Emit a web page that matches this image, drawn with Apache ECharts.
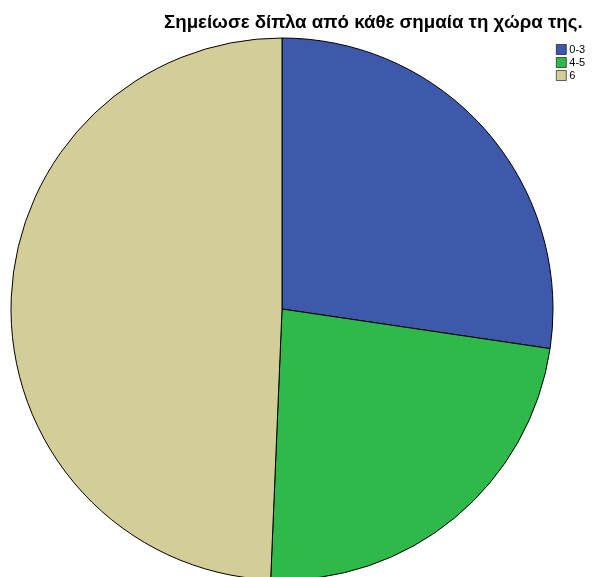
<!DOCTYPE html>
<html><head><meta charset="utf-8">
<script src="https://cdn.jsdelivr.net/npm/echarts@6/dist/echarts.min.js"></script>
<style>html,body{margin:0;padding:0;background:#fff}#c{width:593px;height:577px}</style>
</head><body><div id="c"></div>
<script>
const titleText = 'Σημείωσε δίπλα από κάθε σημαία τη χώρα της.';
const categories = ['0-3', '4-5', '6'];
const values = [41, 35, 74];
const colors = ['#3e58ac', '#2eb94a', '#d3ce97'];

const chart = echarts.init(document.getElementById('c'));
chart.setOption({
  animation: false,
  title: {
    text: titleText, left: 159, top: 8,
    textStyle: {fontFamily: 'Liberation Sans, Arial, sans-serif', fontSize: 18.7, fontWeight: 'bold', color: '#000'}
  },
  legend: {
    orient: 'vertical', left: 551, top: 39, itemWidth: 10, itemHeight: 10, itemGap: 2,
    icon: 'rect',
    textStyle: {fontFamily: 'Liberation Sans, Arial, sans-serif', fontSize: 11, color: '#000', padding: [0,0,0,-2]},
    itemStyle: {borderColor: '#000', borderWidth: 0.6},
    data: categories
  },
  series: [{
    type: 'pie', center: [282, 309], radius: 271, startAngle: 90, clockwise: true,
    label: {show: false}, labelLine: {show: false},
    emphasis: {disabled: true},
    itemStyle: {borderColor: '#000', borderWidth: 1},
    data: categories.map((c, i) => ({name: c, value: values[i], itemStyle: {color: colors[i]}}))
  }]
});
</script></body></html>
